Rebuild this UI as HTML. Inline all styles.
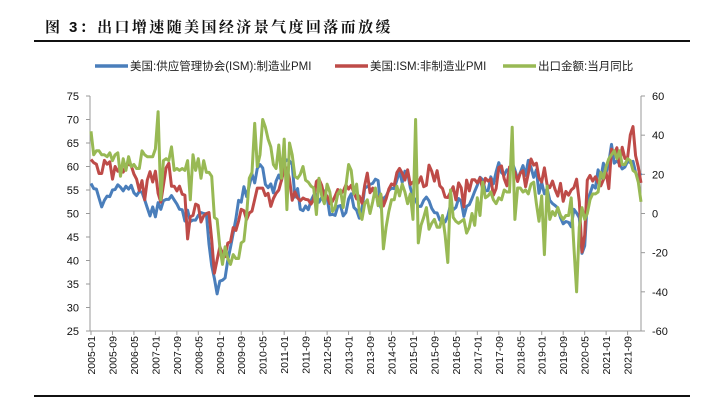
<!DOCTYPE html>
<html><head><meta charset="utf-8"><style>
body{margin:0;background:#fff;}
svg text{font-family:"Liberation Sans","Noto Sans CJK SC",sans-serif;}
</style></head><body>
<svg width="720" height="407" viewBox="0 0 720 407" xmlns="http://www.w3.org/2000/svg">
<text x="45" y="32" font-size="15" font-weight="bold" fill="#111" style="font-family:'Liberation Sans','Noto Serif CJK SC',serif;letter-spacing:2.4px">图 3：出口增速随美国经济景气度回落而放缓</text>
<line x1="34" y1="41" x2="690" y2="41" stroke="#111" stroke-width="2"/>
<line x1="34" y1="396" x2="690" y2="396" stroke="#111" stroke-width="2"/>
<g id="legend"></g>
<g id="axes"></g>
<g id="series"></g>
</svg>
<script>
const startYear = 2005;
const blueMfg = [56.4,55.3,55.2,53.3,51.4,52.8,53.7,53.6,55.0,55.1,56.1,55.6,
54.8,55.8,55.2,56.0,54.4,53.8,54.7,54.5,52.9,51.2,49.5,51.4,
49.3,52.3,50.9,52.7,53.0,53.0,53.8,52.9,52.0,50.9,50.8,48.4,
50.7,48.3,48.6,48.6,49.6,50.2,50.0,49.9,43.5,38.9,36.2,32.9,
35.6,35.8,36.3,40.1,42.8,45.8,48.9,52.8,52.4,55.7,53.6,55.9,
58.4,56.5,59.6,60.4,59.7,56.2,55.5,56.3,54.4,56.9,58.2,57.0,
60.8,61.4,61.2,60.4,53.5,55.3,50.9,50.6,51.6,50.8,52.7,53.9,
54.1,52.4,53.4,54.8,53.5,49.7,49.8,49.6,51.5,51.7,49.5,50.2,
53.1,54.2,51.3,50.7,49.0,50.9,55.4,55.7,56.2,56.4,57.3,57.0,
51.3,53.2,53.7,54.9,55.4,55.3,57.1,59.0,56.6,59.0,58.7,55.5,
53.5,52.9,51.5,51.5,52.8,53.5,52.7,51.1,50.2,50.1,48.6,48.2,
48.2,49.5,51.8,50.8,51.3,53.2,52.6,49.4,51.5,51.9,53.2,54.7,
56.0,57.7,57.2,54.8,54.9,57.8,56.3,58.8,60.8,58.7,58.2,59.3,
59.1,60.8,59.3,57.3,58.7,60.2,58.1,61.3,59.8,57.7,59.3,54.3,
56.6,54.2,55.3,52.8,52.1,51.7,51.2,49.1,47.8,48.3,48.1,47.2,
50.9,50.1,49.1,41.5,43.1,52.6,54.2,56.0,55.4,59.3,57.5,60.7,
58.7,60.8,64.7,60.7,61.2,60.6,59.5,59.9,61.1,60.8,61.1,58.7,
57.6,58.6];
const redNonMfg = [61.5,60.8,60.5,58.5,58.5,61.3,60.5,61.0,57.3,60.0,59.0,59.8,
58.8,60.1,60.5,60.2,58.4,57.3,54.9,57.0,52.9,57.1,58.9,56.7,
59.0,54.3,52.4,56.0,59.7,60.7,55.8,55.8,54.8,55.8,54.1,53.9,
44.6,49.3,49.6,52.0,51.7,48.2,49.5,50.0,50.2,44.4,37.3,40.1,
42.9,41.6,40.8,43.7,44.0,47.0,46.4,48.4,50.9,50.6,48.7,50.1,
50.5,53.0,55.4,55.4,55.4,53.8,54.3,51.5,53.2,54.3,55.0,57.1,
59.4,59.7,57.3,52.8,54.6,53.3,52.7,53.3,53.0,52.9,52.0,53.0,
56.8,57.3,56.0,53.5,53.7,52.1,52.6,53.7,55.1,54.2,54.7,56.1,
55.2,56.0,54.4,53.1,53.7,52.2,56.0,58.6,54.4,55.4,53.9,53.0,
54.0,51.6,53.1,55.2,56.3,56.0,58.7,59.6,58.6,57.1,59.3,56.2,
56.7,56.9,56.5,57.8,55.7,56.0,60.3,59.0,56.9,59.1,55.9,55.3,
53.5,53.4,54.5,55.7,52.9,56.5,55.5,51.4,57.1,54.8,57.2,57.2,
56.5,57.6,55.2,57.5,56.9,57.4,53.9,55.3,59.8,60.1,57.4,55.9,
59.9,59.5,58.8,56.8,58.6,59.1,55.7,58.5,61.6,60.3,60.7,57.6,
56.7,59.7,56.1,55.5,56.9,55.1,53.7,56.4,52.6,54.7,53.9,55.0,
55.5,57.3,52.5,41.8,45.4,57.1,58.1,56.9,57.8,56.6,55.9,57.2,
58.7,55.3,63.7,62.7,64.0,60.1,64.1,61.7,61.9,66.7,68.5,62.3,
59.9,56.5];
const greenExport = [42,30,32,32,30,30,29,31,27,30,31,19,
28,22,29,24,25,23,23,32,30,29,29,29,
33,52,7,27,28,27,34,22,23,22,23,22,
27,7,30,22,28,18,27,21,21,19,-2,-3,
-17,-26,-17,-23,-26,-21,-23,-23,-15,-14,-1,18,
21,46,24,30,48,44,38,34,25,23,35,18,
38,2,36,30,19,18,20,24,17,16,14,13,
-0.5,18,9,5,15,11,1,3,10,12,3,14,
25,22,10,15,1,-3,5,7,0,6,13,4,
10,-18,-7,1,7,7,14,9,15,11,5,10,
-3,48,-15,-6,-2,3,-8,-5,-3,-7,-7,-1,
-11,-25,12,-2,-4,-5,-4,-3,-10,-7,0,-6,
8,-1,16,8,9,11,7,5,8,7,12,11,
11,44,-3,13,13,11,12,10,15,16,5,-4,
9,-21,14,-3,1,-1,3,-1,-3,-1,-1,8,
-17,-40,-7,3,-3,0,7,10,10,11,21,18,
24,28,30,32,28,32,25,25,28,27,22,21,
16,6];
const leftTicks = [25,30,35,40,45,50,55,60,65,70,75];
const rightTicks = [-60,-40,-20,0,20,40,60];
const legendLabels = ["美国:供应管理协会(ISM):制造业PMI","美国:ISM:非制造业PMI","出口金额:当月同比"];
const colors = ["#4a7ebb","#be4b48","#98b954"];

const NS="http://www.w3.org/2000/svg";
const X0=91, X1=641, YT=96, YB=331, nM=206;
const x = m => X0 + m*(X1-X0)/(nM-1);
const yL = v => YB - (v-25)/50*(YB-YT);
const yR = v => YB - (v+60)/120*(YB-YT);
function mk(tag, attrs, parent){const e=document.createElementNS(NS,tag);for(const k in attrs)e.setAttribute(k,attrs[k]);parent.appendChild(e);return e;}
const axes=document.getElementById('axes');
const ser=document.getElementById('series');
const leg=document.getElementById('legend');

let e=mk('line',{x1:90,y1:YT,x2:90,y2:YB,stroke:'#999'},axes);


e=mk('line',{x1:X1,y1:YT,x2:X1,y2:YB,stroke:'#999'},axes);


e=mk('line',{x1:90,y1:YB,x2:X1,y2:YB,stroke:'#999'},axes);


leftTicks.forEach(v=>{
  mk('line',{x1:86,y1:yL(v),x2:90,y2:yL(v),stroke:'#999'},axes);
  const t=mk('text',{x:79,y:yL(v)+4,'font-size':11,'text-anchor':'end',fill:'#111'},axes);
  t.textContent=v;
  
  
});
rightTicks.forEach(v=>{
  mk('line',{x1:X1,y1:yR(v),x2:X1+4,y2:yR(v),stroke:'#999'},axes);
  const t=mk('text',{x:652,y:yR(v)+4,'font-size':11,fill:'#111'},axes);
  t.textContent=v;
  
  
});
for(let m=0;m<nM;m+=8){
  mk('line',{x1:x(m),y1:YB,x2:x(m),y2:YB+4,stroke:'#999'},axes);
  const yr=startYear+Math.floor(m/12), mo=(m%12)+1;
  const t=mk('text',{x:0,y:0,'font-size':10.5,fill:'#111','text-anchor':'end',transform:`translate(${x(m)+4},${YB+5}) rotate(-90)`},axes);
  t.textContent=yr+'-'+String(mo).padStart(2,'0');
  
  
}
function line(data, yf, color, name){
  const d=data.map((v,i)=>(i?'L':'M')+x(i).toFixed(1)+','+yf(v).toFixed(1)).join('');
  const p=mk('path',{d:d,fill:'none',stroke:color,'stroke-width':3,'stroke-linejoin':'round'},ser);
  
  
}
line(blueMfg,yL,colors[0],'series-ism-manufacturing');
line(redNonMfg,yL,colors[1],'series-ism-non-manufacturing');
line(greenExport,yR,colors[2],'series-export-yoy');

const legX=[95,335,503];
legendLabels.forEach((s,i)=>{
  mk('line',{x1:legX[i],y1:66,x2:legX[i]+33,y2:66,stroke:colors[i],'stroke-width':3.5},leg);
  const t=mk('text',{x:legX[i]+35,y:70,'font-size':11.5,fill:'#222'},leg);
  t.textContent=s;
  
  
});
</script>
</body></html>
